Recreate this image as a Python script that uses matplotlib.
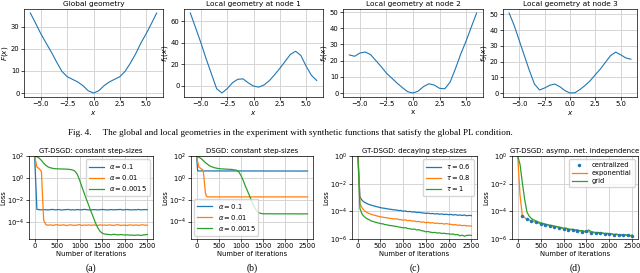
import numpy as np
import matplotlib
matplotlib.use("Agg")
import matplotlib.pyplot as plt

# ---- top row: global and local geometries, read at x = -6, -5.5, ..., 6
xs = np.arange(-6, 6.01, 0.5)
F_glob = [36.2, 31.6, 26.8, 22.6, 18.5, 14.0, 9.8, 7.4, 6.2, 5.0, 3.3, 1.0, 0.0,
          1.0, 3.3, 5.0, 6.2, 7.4, 9.8, 13.5, 17.7, 22.6, 26.8, 31.4, 36.2]
f1 = [67.7, 54.0, 40.0, 25.0, 11.0, -3.0, -7.0, -3.0, 2.5, 5.8, 6.2, 2.5, -0.5,
      -1.5, 0.5, 4.5, 10.0, 16.0, 22.5, 29.0, 32.0, 28.0, 18.0, 9.5, 4.7]
f2 = [23.5, 22.7, 24.7, 25.3, 23.7, 20.0, 16.3, 12.2, 9.2, 6.1, 3.3, 0.8, 0.0,
      1.2, 4.0, 5.7, 4.9, 2.9, 2.6, 6.7, 15.0, 24.0, 32.0, 40.8, 49.4]
f3 = [50.9, 43.0, 33.4, 23.8, 14.3, 5.7, 1.9, 3.2, 4.9, 5.7, 4.0, 1.5, 0.0,
      0.2, 2.3, 4.9, 7.9, 11.7, 15.3, 19.6, 23.8, 26.0, 24.3, 22.3, 21.5]

top_titles = ["Global geometry", "Local geometry at node 1",
              "Local geometry at node 2", "Local geometry at node 3"]
top_ylabels = ["$F(x)$", "$f_1(x)$", "$f_2(x)$", "$f_3(x)$"]
top_xlabels = ["$x$", "$x$", "x", "$x$"]
top_yticks = [[0, 10, 20, 30], [0, 20, 40, 60],
              [0, 10, 20, 30, 40, 50], [0, 10, 20, 30, 40, 50]]

# ---- bottom row: loss vs iterations
it = np.arange(0, 2501, 50)
it100 = np.arange(100, 2501, 100)

# (a) GT-DSGD constant step-sizes
a_blue = np.array([90000, 1.4] + [
    1.30, 1.25, 1.35, 1.28, 1.22, 1.32, 1.38, 1.26, 1.31, 1.34,
    1.21, 1.29, 1.33, 1.37, 1.24, 1.30, 1.23, 1.35, 1.28, 1.26,
    1.39, 1.31, 1.27, 1.22, 1.34, 1.30, 1.25, 1.29, 1.36, 1.31,
    1.23, 1.28, 1.34, 1.26, 1.30, 1.32, 1.38, 1.22, 1.29, 1.35,
    1.30, 1.24, 1.31, 1.28, 1.37, 1.25, 1.30, 1.33, 1.29]) * 1e-3
a_orange = np.array([1e7, 1e6, 7e5, 4e5, 15, 5.5] + [
    5.0, 5.5, 4.8, 5.3, 5.6, 4.9, 5.2, 5.4, 4.7, 5.1,
    5.5, 5.0, 4.9, 5.3, 5.6, 4.8, 5.2, 5.0, 5.4, 4.9,
    5.3, 5.1, 4.8, 5.5, 5.0, 5.2, 4.9, 5.4, 5.1, 4.8,
    5.3, 5.6, 4.9, 5.0, 5.2, 4.7, 5.4, 5.1, 5.0, 5.3,
    4.9, 5.2, 5.5, 5.0, 5.1]) * 1e-5
a_green = [100, 85, 65, 40, 22, 14, 10, 8.5, 7.5, 7.0,
           6.8, 6.7, 6.6, 6.5, 6.4, 6.2, 5.8, 5.2, 4.0, 2.0,
           0.6, 0.15, 0.04, 0.011, 3.2e-3, 9e-4, 2.8e-4, 8e-5, 3e-5, 1.4e-5,
           9.5e-6, 8e-6, 7.5e-6,
           7.2e-6, 6.8e-6, 7.5e-6, 7.0e-6, 6.6e-6, 7.1e-6, 6.9e-6, 6.4e-6, 6.7e-6,
           6.2e-6, 6.5e-6, 6.0e-6, 6.3e-6, 6.6e-6, 5.9e-6, 6.4e-6, 6.8e-6, 7.2e-6]
a_labels = [r"$\alpha = 0.1$", r"$\alpha = 0.01$", r"$\alpha = 0.0015$"]

# (b) DSGD constant step-sizes (smooth curves)
b_blue_it = [0, 25, 2500]
b_blue = [100, 4.3, 4.2]
b_orange_it = [0, 50, 100, 150, 175, 200, 225, 250, 2500]
b_orange = [100, 10, 7, 5, 0.5, 0.04, 0.02, 0.018, 0.018]
b_green_it = [0, 100, 200, 300, 400, 500, 600, 700, 800, 900, 950, 1000, 1050,
              1100, 1150, 1200, 1250, 1300, 1350, 1400, 1450, 1500, 2500]
b_green = [100, 60, 25, 12, 8.5, 7, 6.5, 6.2, 5.8, 5.0, 3.6, 1.7, 0.6,
           0.18, 0.06, 0.02, 6e-3, 2.2e-3, 1e-3, 6.5e-4, 5.5e-4, 5.1e-4, 5e-4]

# (c) GT-DSGD decaying step-sizes (units of 1e-5)
c_blue = np.array([3e5, 110, 60, 45, 37, 31, 28, 25, 22.5, 20.5,
                   18.5, 17.2, 16.4, 15.1, 14.3, 13.6, 12.8, 12.5, 11.4, 11.6,
                   10.2, 10.6, 9.5, 9.8, 8.9, 9.1, 8.2, 8.6, 7.8, 7.6,
                   7.1, 7.4, 6.8, 7.0, 6.4, 6.8, 6.1, 6.5, 5.9, 6.2,
                   5.7, 6.0, 5.4, 5.8, 5.2, 5.5, 5.0, 5.4, 4.8, 5.1, 4.9]) * 1e-5
c_orange = np.array([3e5, 36, 17, 11, 8.5, 7.0, 6.0, 5.4, 4.9, 4.4,
                     4.0, 3.8, 3.5, 3.4, 3.1, 3.0, 2.8, 2.9, 2.6, 2.5,
                     2.3, 2.4, 2.1, 2.2, 1.95, 2.0, 1.8, 1.85, 1.65, 1.7,
                     1.5, 1.6, 1.45, 1.5, 1.35, 1.4, 1.3, 1.35, 1.2, 1.3,
                     1.2, 1.15, 1.05, 1.1, 0.98, 1.02, 0.92, 0.97, 0.88, 0.9, 0.86]) * 1e-5
c_green = np.array([3e5, 16, 6.0, 4.0, 3.0, 2.5, 2.0, 1.8, 1.6, 1.45,
                    1.3, 1.25, 1.1, 1.05, 0.95, 0.92, 0.85, 0.82, 0.74, 0.7,
                    0.64, 0.66, 0.58, 0.55, 0.5, 0.52, 0.45, 0.47, 0.4, 0.38,
                    0.33, 0.35, 0.31, 0.29, 0.3, 0.27, 0.28, 0.25, 0.26, 0.24,
                    0.24, 0.22, 0.23, 0.2, 0.21, 0.17, 0.19, 0.16, 0.18, 0.19, 0.18]) * 1e-5
c_labels = [r"$\tau = 0.6$", r"$\tau = 0.8$", r"$\tau = 1$"]

# (d) GT-DSGD asymptotic network independence (units of 1e-6)
d_central = np.array([45, 28, 21, 16, 12, 10, 8.5, 7.2, 6.3, 5.2,
                      4.6, 4.2, 3.8, 3.4, 3.6, 2.9, 2.7, 2.5, 2.2, 2.2,
                      2.0, 1.9, 1.8, 1.8, 1.7]) * 1e-6
d_exp = np.array([1e6, 1500, 50, 35, 28, 24, 21, 18, 16, 14,
                  12.5, 12, 10.5, 10, 9, 8.8, 7.8, 7.5, 6.8, 6.3,
                  5.5, 5.7, 5.0, 4.6, 4.8, 4.1, 4.3, 3.7, 3.9, 3.4,
                  3.1, 3.4, 2.9, 3.0, 2.7, 2.8, 2.5, 2.6, 2.3, 2.4,
                  2.2, 2.3, 2.0, 2.2, 1.9, 2.0, 1.8, 1.9, 1.8, 1.7, 1.8]) * 1e-6
d_grid = np.array([1e6, 250000, 12000, 800, 90, 45, 30, 24, 20, 17,
                   15, 13.5, 12, 11, 10, 9.5, 8.5, 8, 7.2, 6.8,
                   6.0, 6.2, 5.4, 5.0, 5.1, 4.4, 4.6, 4.0, 4.1, 3.6,
                   3.5, 4.5, 3.4, 3.2, 2.9, 3.0, 2.7, 2.8, 2.5, 2.6,
                   2.4, 2.4, 2.1, 2.3, 2.0, 2.1, 1.9, 2.0, 1.9, 1.8, 1.9]) * 1e-6
d_labels = ["centralized", "exponential", "grid"]

bottom_titles = ["GT-DSGD: constant step-sizes", "DSGD: constant step-sizes",
                 "GT-DSGD: decaying step-sizes", "GT-DSGD: asymp. net. independence"]
sub_labels = ["(a)", "(b)", "(c)", "(d)"]

W, H = 640, 273
fs = 4.9
plt.rcParams.update({
    "font.size": fs,
    "axes.linewidth": 0.5,
    "xtick.major.width": 0.5, "ytick.major.width": 0.5,
    "xtick.major.size": 2, "ytick.major.size": 2,
    "xtick.major.pad": 1.2, "ytick.major.pad": 1.2,
    "axes.titlepad": 2,
    "axes.labelpad": 0.8,
})

fig = plt.figure(figsize=(W / 100, H / 100), dpi=100)

def box(l, t, r, b):
    return [l / W, 1 - b / H, (r - l) / W, (b - t) / H]

def style(ax):
    ax.grid(True, color="#d5d5d5", lw=0.7)
    ax.set_axisbelow(True)
    ax.tick_params(labelsize=fs)

top_boxes = [(24, 9, 163, 97), (184, 9, 323, 97), (343, 9, 483, 97), (503, 9, 637, 97)]
for bx, ys, t, yl, xl, yt in zip(top_boxes, [F_glob, f1, f2, f3], top_titles,
                                 top_ylabels, top_xlabels, top_yticks):
    ax = fig.add_axes(box(*bx))
    ax.plot(xs, ys, color="C0", lw=0.8)
    ax.set_xticks([-5, -2.5, 0, 2.5, 5])
    ax.set_yticks(yt)
    ax.set_title(t, fontsize=fs + 0.4)
    ax.set_ylabel(yl, fontsize=fs + 0.3)
    ax.set_xlabel(xl, fontsize=fs + 0.3)
    style(ax)

fig.text(68 / W, 1 - 133 / H,
         "Fig. 4.     The global and local geometries in the experiment with synthetic "
         "functions that satisfy the global PL condition.",
         family="Liberation Serif", fontsize=6.6, va="center", ha="left")

bot_boxes = [(29, 156, 153, 239), (191, 156, 313, 239), (352, 156, 477, 239), (512, 156, 638, 239)]
axs = [fig.add_axes(box(*bx)) for bx in bot_boxes]
for ax in axs:
    ax.set_yscale("log")
leg_kw = dict(fontsize=fs, handlelength=2.2, borderpad=0.4, labelspacing=0.3,
              handletextpad=0.8)

ax = axs[0]
for ys, lab, c in zip([a_blue, a_orange, a_green], a_labels, ["C0", "C1", "C2"]):
    ax.plot(it, ys, color=c, lw=0.9, label=lab)
ax.set_ylim(2.8e-6, 1e2)
ax.set_yticks([1e2, 1e0, 1e-2, 1e-4])
ax.legend(loc="upper right", **leg_kw)

ax = axs[1]
ax.plot(b_blue_it, b_blue, color="C0", lw=0.9, label=a_labels[0])
ax.plot(b_orange_it, b_orange, color="C1", lw=0.9, label=a_labels[1])
ax.plot(b_green_it, b_green, color="C2", lw=0.9, label=a_labels[2])
ax.set_ylim(2.5e-6, 1e2)
ax.set_yticks([1e2, 1e0, 1e-2, 1e-4])
ax.legend(loc="lower left", **leg_kw)

ax = axs[2]
for ys, lab, c in zip([c_blue, c_orange, c_green], c_labels, ["C0", "C1", "C2"]):
    ax.plot(it, ys, color=c, lw=0.9, label=lab)
ax.set_ylim(1e-6, 1e0)
ax.set_yticks([1e0, 1e-2, 1e-4, 1e-6])
ax.legend(loc="upper right", **leg_kw)

ax = axs[3]
ax.plot(it100, d_central, ".", color="C0", ms=3, label=d_labels[0], zorder=3)
ax.plot(it, d_exp, color="C1", lw=0.9, label=d_labels[1])
ax.plot(it, d_grid, color="C2", lw=0.9, label=d_labels[2])
ax.set_ylim(1e-6, 1e0)
ax.set_yticks([1e0, 1e-2, 1e-4, 1e-6])
ax.legend(loc="upper right", **leg_kw)

for ax, t, sl in zip(axs, bottom_titles, sub_labels):
    ax.set_xlim(-125, 2625)
    ax.set_xticks([0, 500, 1000, 1500, 2000, 2500])
    ax.minorticks_off()
    ax.set_title(t, fontsize=fs + 0.1)
    ax.set_ylabel("Loss", fontsize=fs)
    ax.set_xlabel("Number of iterations", fontsize=fs)
    style(ax)
    pos = ax.get_position()
    fig.text(pos.x0 + pos.width / 2, 1 - 268 / H, sl, family="Liberation Serif",
             fontsize=7, ha="center", va="center")

fig.savefig("out.png", dpi=100)
